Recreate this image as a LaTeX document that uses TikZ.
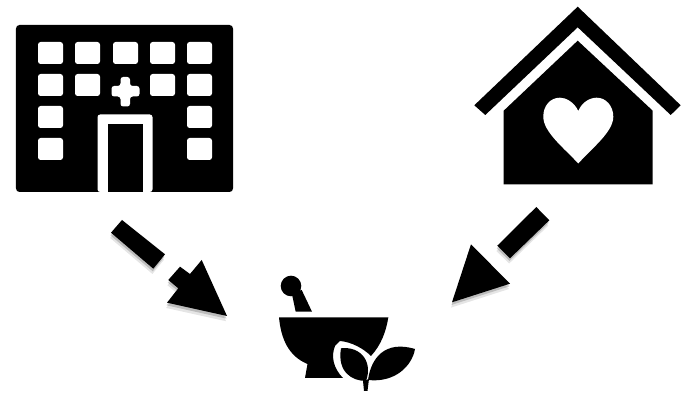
\documentclass[tikz,border=0pt]{standalone}
\usetikzlibrary{shadows}
\tikzset{
	windowpane/.pic={
			\fill[white, rounded corners=1.5pt] (0,0) rectangle (25,22);
		}
}
\tikzset{
	blockarrow/.style={
			fill=black,
			general shadow={fill=black, opacity=0.10, shadow xshift=-0.5pt, shadow yshift=-3pt},
			general shadow={fill=black, opacity=0.18, shadow xshift=-0.3pt, shadow yshift=-1.5pt}
		}
}
\begin{document}
\begin{tikzpicture}[x=0.02cm, y=-0.02cm]

			\useasboundingbox (0,0) rectangle (681,394);

			% hospital
			\begin{scope}
				\fill[black, rounded corners=2pt] (16,25) rectangle (233,192);

				\pic at (38,42) {windowpane};
				\pic at (75,42) {windowpane};
				\pic at (113,42) {windowpane};
				\pic at (150,42) {windowpane};
				\pic at (187,42) {windowpane};
				\pic at (38,74) {windowpane};
				\pic at (75,74) {windowpane};
				\pic at (150,74) {windowpane};
				\pic at (187,74) {windowpane};
				\pic at (38,106) {windowpane};
				\pic at (187,106) {windowpane};
				\pic at (38,138) {windowpane};
				\pic at (187,138) {windowpane};

				\fill[white, rounded corners=1.5pt] (120.5,77) -- (130,77) -- (130,86) -- (139.5,86) -- (139.5,96.5) -- (130,96.5) -- (130,106.5) -- (120.5,106.5) -- (120.5,96.5) -- (111.5,96.5) -- (111.5,86) -- (120.5,86) -- cycle;

				\fill[white, rounded corners=1.5pt] (97.5,192) -- (97.5,114.5) -- (152.5,114.5) -- (152.5,192) -- cycle;
				\fill[black] (107.5,192) rectangle (143,124.5);
			\end{scope}

			% care home
			\begin{scope}
				\fill[black] (577.7,6.7) -- (680.7,105.3) -- (670.7,115) -- (577.7,27.3) -- (485.3,115) -- (474.3,105.3) -- cycle;
				\fill[black] (577.7,40.7) -- (652.7,110.7) -- (652.7,184.3) -- (503.7,184.3) -- (503.7,110.7) -- cycle;
				\fill[white] (578.3,111) .. controls (574,102) and (566,97.7) .. (560,97.7)
					.. controls (550,97.7) and (543.3,106) .. (543.3,116.7)
					.. controls (543.3,132) and (564,148) .. (578.3,163.5)
					.. controls (592,148) and (613.3,132) .. (613.3,116.7)
					.. controls (613.3,106) and (606,97.7) .. (596.7,97.7)
					.. controls (590,97.7) and (582,102) .. (578.3,111) -- cycle;
			\end{scope}

			% arrows
			\begin{scope}
				\path[blockarrow] (122,220) -- (165,254.3) -- (153.3,268.7) -- (111,232.7) -- cycle;
				\path[blockarrow] (180,266.7) -- (190,274) -- (201.7,260) -- (227,316) -- (167,302.7) -- (178.3,288.3) -- (168.3,280) -- cycle;
				\path[blockarrow] (536.3,207) -- (549.3,220.3) -- (510,258.3) -- (497.3,245.7) -- cycle;
				\path[blockarrow] (471,244.3) -- (510,283.7) -- (452,302.3) -- cycle;
			\end{scope}

			% mortar with herb
			\begin{scope}
				\fill[black] (291,286) circle (10.3);
				\fill[black] (291.7,293) -- (301.7,290) -- (312,311.7) -- (295.7,311.7) -- cycle;
				\fill[black] (279,317.5) -- (388.3,317.5)
					.. controls (386,332) and (381,345) .. (371,356)
					.. controls (364,349) and (352,342) .. (340,341)
					-- (335,346)
					.. controls (331,356) and (333,368) .. (343,378)
					-- (305,378) -- (307.5,364)
					.. controls (288,356) and (281,338) .. (279,317.5) -- cycle;

				\fill[black] (341,348.3)
					.. controls (361,346) and (373,362) .. (366,381)
					.. controls (352,381) and (337,372) .. (341,348.3) -- cycle;
				\fill[black] (368,380)
					.. controls (371,358) and (385,340) .. (415,349)
					.. controls (412,366) and (395,383) .. (368,380) -- cycle;
				\fill[black] (363,381) -- (369,379) -- (367.5,391) -- (364,391) -- cycle;
			\end{scope}

		\end{tikzpicture}
\end{document}
